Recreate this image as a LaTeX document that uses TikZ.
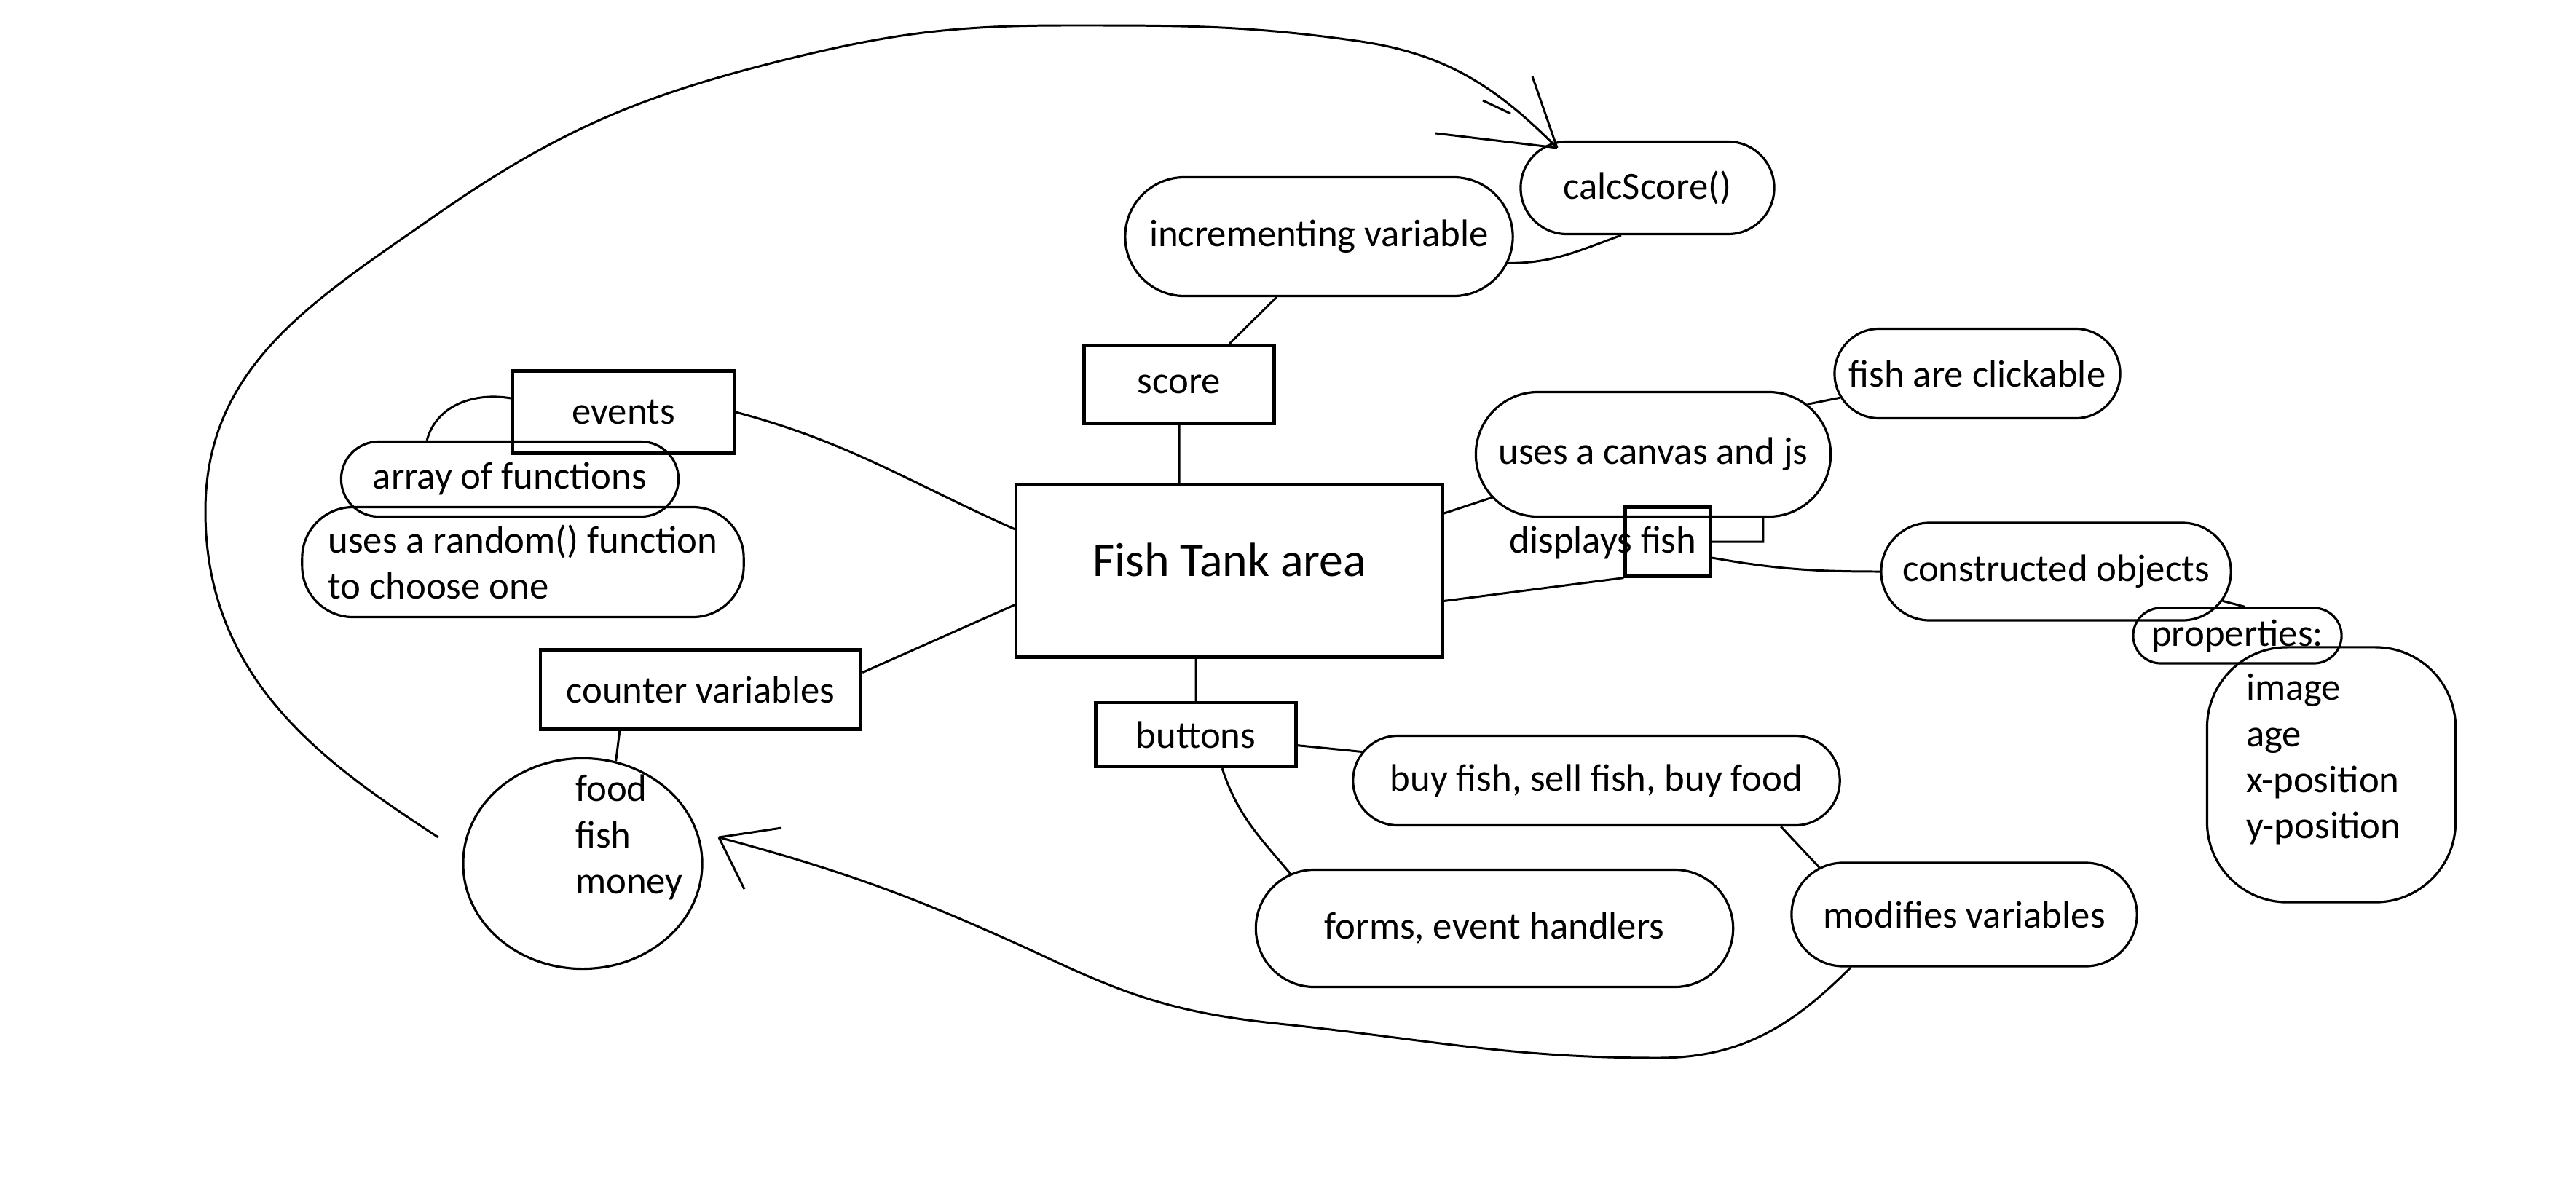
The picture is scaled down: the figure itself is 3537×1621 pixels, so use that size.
\documentclass[tikz,border=0pt]{standalone}
\usepackage{fontspec}
\setmainfont{Carlito}
\usetikzlibrary{positioning,calc,shapes.misc,shapes.geometric}

\begin{document}
\begin{tikzpicture}[x=0.01cm,y=-0.01cm,
			font=\fontsize{15}{18}\selectfont,
			box/.style={rectangle,draw=black,line width=1.2pt,inner sep=0pt},
			blob/.style={rounded rectangle,draw=black,line width=0.9pt,inner ysep=0pt,inner xsep=-0.55cm},
			txt/.style={inner sep=0pt,align=left},
			link/.style={black,line width=0.85pt}]
		\useasboundingbox (0,0) rectangle (3537,1621);
		\path 	(1688,784) 	node 	(tank) 	[box, minimum width=5.85cm, minimum height=2.37cm, text depth=0.3cm, font=\fontsize{18.7}{22}\selectfont] {Fish Tank area}
		        (1619,528) 	node 	(score) 	[box, minimum width=2.61cm, minimum height=1.08cm] {score}
		        (856,566) 	node 	(events) 	[box, minimum width=3.04cm, minimum height=1.13cm] {events}
		        (962,947) 	node 	(counter) [box, minimum width=4.40cm, minimum height=1.09cm] {counter variables}
		        (1642,1009) node 	(buttons) [box, minimum width=2.75cm, minimum height=0.88cm] {buttons}
		        (2290,744) 	node 	(fishbox) [box, minimum width=1.17cm, minimum height=0.95cm] {}
		        (2201,745) 	node 	(displays) [txt] {displays fish};
		\path 	(1811,325) 	node 	(incvar) 	[blob, minimum width=4.22cm, minimum height=1.63cm] {incrementing variable}
		        (2262,258) 	node 	(calc) 	[blob, minimum width=2.38cm, minimum height=1.27cm] {calcScore()}
		        (2270,624) 	node 	(canvas) 	[blob, minimum width=3.77cm, minimum height=1.71cm] {uses a canvas and js}
		        (2715,513) 	node 	(click) 	[blob, minimum width=2.82cm, minimum height=1.23cm] {fish are clickable}
		        (700,658) 	node 	(array) 	[blob, minimum width=3.53cm, minimum height=1.03cm] {array of functions}
		        (718,772) 	node 	(random) 	[rectangle, rounded corners=0.7cm, draw=black, line width=0.9pt, align=left, minimum width=6.06cm, minimum height=1.51cm] {uses a random() function\\to choose one}
		        (2192,1072) node 	(buy) 	[blob, minimum width=5.58cm, minimum height=1.23cm] {buy fish, sell fish, buy food}
		        (2052,1275) node 	(forms) 	[blob, minimum width=5.45cm, minimum height=1.61cm] {forms, event handlers}
		        (2697,1256) node 	(modify) 	[blob, minimum width=3.64cm, minimum height=1.42cm] {modifies variables}
		        (2823,785) 	node 	(objects) [blob, minimum width=3.70cm, minimum height=1.34cm] {constructed objects}
		        (3201,1064) node 	(proplist) [rectangle, rounded corners=1.1cm, draw=black, line width=0.9pt, minimum width=3.41cm, minimum height=3.5cm] {}
		        (3072,873) 	node 	(props) 	[blob, minimum width=1.76cm, minimum height=0.76cm] {properties:}
		        (3190,1043) node 	(proptext) [txt] {image\\age\\x-position\\y-position}
		        (800,1186) 	node 	(food) 	[ellipse, draw=black, line width=0.9pt, inner sep=0pt, minimum width=3.28cm, minimum height=2.89cm] {}
		        (864,1150) 	node 	(foodtext) [txt] {food\\fish\\money};
		\coordinate (tipcalc) at (2138,203);
		\coordinate (tipfood) at (987,1150);
		\draw [link] (score.south) -- (score.south |- tank.north)
		             (buttons.north) -- (buttons.north |- tank.south)
		             (score.39) -- (incvar.235)
		             (incvar.-8) to[out=0,in=200] (calc.241)
		             (events.east) to[out=-15,in=156] (tank.169)
		             (events.173) to[out=170,in=75] (array.155)
		             (counter.6) -- (tank.189)
		             (counter.207) -- (food.72)
		             (tank.15) -- (canvas.195)
		             (tank.-8) -- (fishbox.south west)
		             (fishbox.east) -| (canvas.-30)
		             (canvas.18) -- (click.190)
		             (fishbox.-20) to[out=-10,in=180] (objects.west)
		             (objects.-10) -- (props.75)
		             (buttons.-6) -- (buy.173)
		             (buttons.-52) to[out=-72,in=130] (forms.165)
		             (buy.-14) -- (modify.162);
		\draw [link, shorten <=0.4cm] (food.175) to[out=147,in=270] (282,702) to[out=90,in=215] (592,300)
		             to[out=35,in=194] (1074,83) to[out=14,in=180] (1462,35) to[out=0,in=172] (1862,56)
		             to[out=-8,in=135] (tipcalc);
		\draw [link] (tipcalc) -- ++(-167,-20) (tipcalc) -- ++(-34,-98) (tipcalc) ++(-102,-65) -- ++(38,18);
		\draw [link] (modify.205) to[out=225,in=0] (2276,1453) to[out=180,in=-6] (1756,1406)
		             to[out=174,in=-25] (1450,1321) to[out=155,in=-15] (tipfood);
		\draw [link] (tipfood) -- ++(86,-13) (tipfood) -- ++(35,71);
	\end{tikzpicture}
\end{document}
